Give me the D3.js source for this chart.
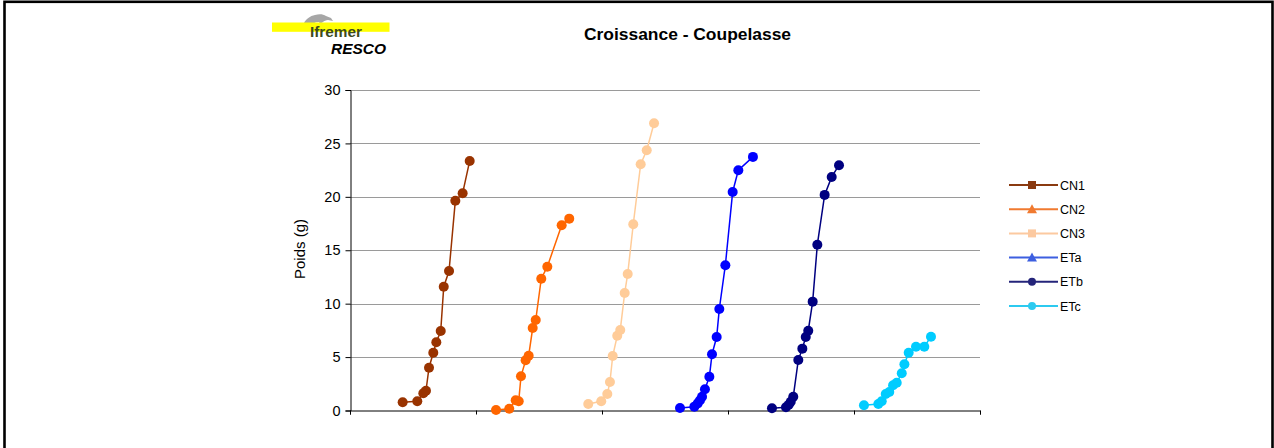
<!DOCTYPE html>
<html><head><meta charset="utf-8">
<script src="https://cdn.jsdelivr.net/npm/d3@7"></script>
<style>body{margin:0;background:#fff}svg{display:block}</style>
</head><body>
<svg id="c" width="1274" height="448"></svg>
<script>
const seriesNames = ["CN1","CN2","CN3","ETa","ETb","ETc"];
const seriesColors = ["#993300","#FF6600","#FFCC99","#0000FF","#000080","#00CCFF"];
const legendColors = ["#8a3a10","#f07a30","#fcc9a0","#3d5fe0","#24247a","#2ccaf0"];
const legendShapes = ["square","triangle","square","triangle","circle","circle"];

const xCN1 = [4.18,5.34,5.82,6.03,6.27,6.61,6.85,7.2,7.44,7.86,8.36,8.94,9.5];
const yCN1 = [0.77,0.86,1.61,1.85,4.0,5.41,6.39,7.44,11.59,13.06,19.64,20.34,23.36];
const xCN2 = [11.59,12.64,13.15,13.39,13.57,13.94,14.18,14.5,14.74,15.18,15.66,16.8,17.4];
const yCN2 = [0.05,0.17,0.96,0.86,3.2,4.7,5.13,7.72,8.47,12.34,13.46,17.34,17.96];
const xCN3 = [18.91,19.94,20.42,20.63,20.85,21.21,21.45,21.8,22.04,22.48,23.07,23.55,24.13];
const yCN3 = [0.61,0.86,1.54,2.67,5.1,7.0,7.54,11.0,12.78,17.43,23.05,24.36,26.89];
const xETa = [26.19,27.33,27.6,27.78,27.94,28.17,28.52,28.73,29.1,29.31,29.79,30.37,30.82,31.98];
const yETa = [0.23,0.36,0.67,0.96,1.29,1.99,3.16,5.26,6.88,9.5,13.6,20.46,22.49,23.74];
const xETb = [33.49,34.6,34.82,34.98,35.18,35.58,35.9,36.17,36.37,36.72,37.09,37.67,38.23,38.81];
const yETb = [0.21,0.3,0.54,0.82,1.29,4.73,5.79,6.88,7.47,10.19,15.52,20.18,21.86,22.96];
const xETc = [40.79,41.93,42.2,42.52,42.8,43.1,43.39,43.79,44.0,44.34,44.92,45.58,46.11];
const yETc = [0.49,0.61,0.86,1.54,1.73,2.36,2.6,3.48,4.33,5.41,5.97,5.97,6.91];

const xs = [xCN1,xCN2,xCN3,xETa,xETb,xETc];
const ys = [yCN1,yCN2,yCN3,yETa,yETb,yETc];
const yTicks = [0,5,10,15,20,25,30];
const xTicks = [0,10,20,30,40,50];
const title = "Croissance - Coupelasse";
const yTitle = "Poids (g)";

const svg = d3.select("#c");
const font = "Liberation Sans, Arial, sans-serif";

// outer frame
svg.append("rect").attr("x",4.5).attr("y",1.8).attr("width",1268).attr("height",470)
  .attr("fill","none").attr("stroke","#000").attr("stroke-width",2.6);

const x = d3.scaleLinear().domain([0,50]).range([350,980]);
const y = d3.scaleLinear().domain([0,30]).range([410.5,90]);

// gridlines
svg.append("g").selectAll("line").data(yTicks.filter(d=>d>0)).join("line")
  .attr("x1",350).attr("x2",980).attr("y1",d=>Math.round(y(d))+0.5).attr("y2",d=>Math.round(y(d))+0.5)
  .attr("stroke","#9a9a9a").attr("stroke-width",1);

// y axis
const ya = svg.append("g").attr("transform","translate(350.5,0)")
  .call(d3.axisLeft(y).tickValues(yTicks).tickSize(5).tickPadding(5).tickFormat(d3.format("d")));
ya.select(".domain").attr("stroke","#000");
ya.selectAll("text").attr("font-family",font).attr("font-size",14.5).attr("fill","#000");

// x axis
const xa = svg.append("g").attr("transform","translate(0,410.5)")
  .call(d3.axisBottom(x).tickValues(xTicks).tickSize(4).tickFormat(""));
xa.select(".domain").attr("stroke","#000");

// series
const line = d3.line().x(d=>x(d[0])).y(d=>y(d[1]));
seriesNames.forEach((name,i)=>{
  const pts = xs[i].map((v,j)=>[v, ys[i][j]]);
  const g = svg.append("g");
  g.append("path").attr("d",line(pts)).attr("fill","none")
    .attr("stroke",seriesColors[i]).attr("stroke-width",1.5);
  g.selectAll("circle").data(pts).join("circle")
    .attr("cx",d=>x(d[0])).attr("cy",d=>y(d[1])).attr("r",5)
    .attr("fill",seriesColors[i]);
});

// title
svg.append("text").attr("x",687.5).attr("y",40).attr("text-anchor","middle")
  .attr("font-family",font).attr("font-size",16).attr("font-weight","bold")
  .attr("textLength",207).attr("lengthAdjust","spacingAndGlyphs").text(title);

// y title
svg.append("text").attr("transform","translate(305,249) rotate(-90)").attr("text-anchor","middle")
  .attr("font-family",font).attr("font-size",15).text(yTitle);

// legend
const lg = svg.append("g");
seriesNames.forEach((name,i)=>{
  const cy = 185 + i*24.2;
  lg.append("line").attr("x1",1009).attr("x2",1058).attr("y1",cy).attr("y2",cy)
    .attr("stroke",legendColors[i]).attr("stroke-width",2);
  const sh = legendShapes[i];
  if (sh==="square") lg.append("rect").attr("x",1028).attr("y",cy-4).attr("width",8).attr("height",8).attr("fill",legendColors[i]);
  else if (sh==="triangle") lg.append("path").attr("d",`M1032,${cy-5}L1037,${cy+4}L1027,${cy+4}Z`).attr("fill",legendColors[i]);
  else lg.append("circle").attr("cx",1032).attr("cy",cy).attr("r",4).attr("fill",legendColors[i]);
  lg.append("text").attr("x",1060).attr("y",cy+4.5).attr("font-family",font).attr("font-size",12.5)
    .attr("fill","#000").text(name);
});

// logo
const logo = svg.append("g");
logo.append("path").attr("d","M301,30 L304,23 C306,19 310,16 315,15 C319,14 323,14 326,16 L331,18 L333,21 L328,20 C326,20 324,21 323,22 L320,24 L319,22 C315,22 311,24 308,27 Z")
  .attr("fill","#a6a6a6");
logo.append("rect").attr("x",272).attr("y",22.5).attr("width",117.5).attr("height",9.3).attr("fill","#ffff00");
logo.append("text").attr("x",310).attr("y",37).attr("font-family",font).attr("font-size",14)
  .attr("font-weight","bold").attr("fill","#3d4a1c").attr("textLength",52).attr("lengthAdjust","spacingAndGlyphs").text("Ifremer");
logo.append("text").attr("x",331).attr("y",53.5).attr("font-family",font).attr("font-size",15)
  .attr("font-weight","bold").attr("font-style","italic").attr("fill","#000").attr("textLength",55).attr("lengthAdjust","spacingAndGlyphs").text("RESCO");
</script>
</body></html>
